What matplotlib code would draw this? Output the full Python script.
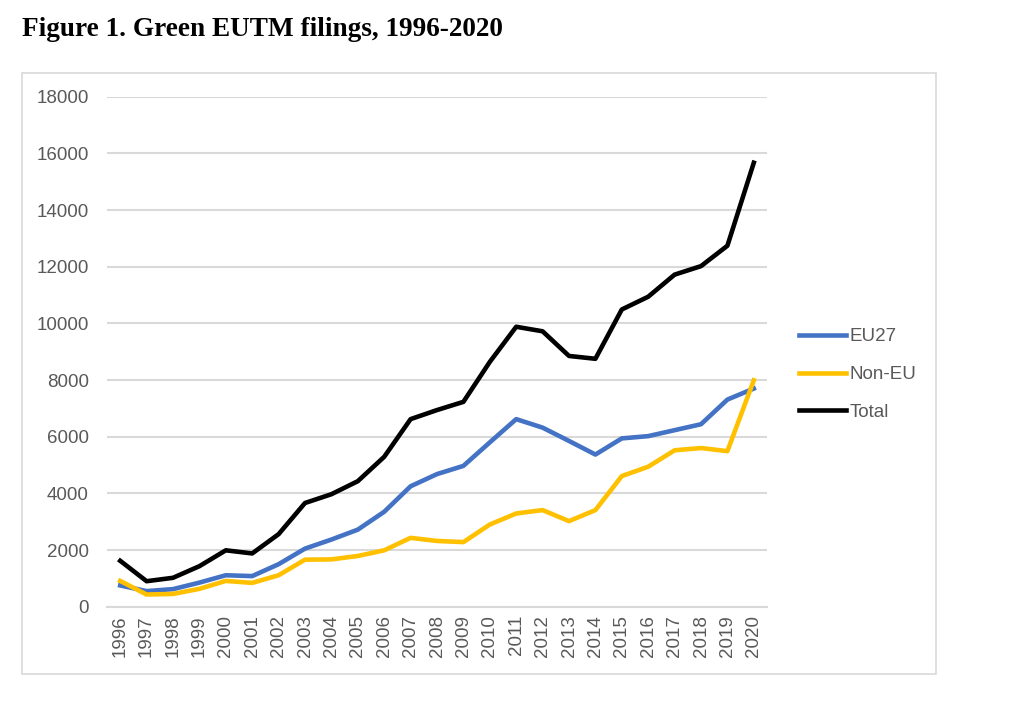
import matplotlib
matplotlib.use("Agg")
import matplotlib.pyplot as plt
from matplotlib.patches import Rectangle

# Dados
anos = list(range(1996, 2021))
eu27 = [750, 550, 620, 850, 1110, 1080, 1500, 2050, 2370, 2720, 3350, 4250,
        4680, 4970, 5800, 6620, 6320, 5850, 5370, 5940, 6020, 6230, 6440, 7310, 7700]
non_eu = [910, 430, 450, 630, 910, 840, 1110, 1660, 1670, 1790, 1990, 2430,
          2320, 2280, 2900, 3290, 3410, 3020, 3410, 4610, 4940, 5520, 5600, 5490, 7990]
total = [1620, 900, 1020, 1430, 1990, 1880, 2560, 3660, 3970, 4430, 5290, 6620,
         6940, 7230, 8640, 9880, 9720, 8850, 8750, 10490, 10940, 11720, 12020, 12740, 15670]
rotulos = [str(a) for a in anos]
yticks = list(range(0, 18001, 2000))

cinza_texto = '#595959'
cinza_grade = '#D9D9D9'

fig = plt.figure(figsize=(10.3, 7.08), dpi=100)
W, H = 1030, 708

# Moldura do gráfico
fig.patches.append(Rectangle((22 / W, 1 - 674 / H), (936 - 22) / W, (674 - 72.5) / H,
                             transform=fig.transFigure, fill=False,
                             edgecolor=cinza_grade, linewidth=1.2))

# Título
fig.text(22 / W, 1 - 36 / H, 'Figure 1. Green EUTM filings, 1996-2020',
         family='Liberation Serif', fontweight='bold', fontsize=19.6,
         color='black', ha='left', va='baseline')

ax = fig.add_axes([107 / W, 1 - 606.7 / H, (767 - 107) / W, (606.7 - 96.7) / H])
x = list(range(len(anos)))
ax.plot(x, eu27, color='#4472C4', linewidth=3.3, label='EU27', solid_joinstyle='round')
ax.plot(x, non_eu, color='#FFC000', linewidth=3.3, label='Non-EU', solid_joinstyle='round')
ax.plot(x, total, color='black', linewidth=3.3, label='Total', solid_joinstyle='round')

ax.set_xlim(-0.5, len(anos) - 0.5)
ax.set_ylim(0, 18000)
ax.set_yticks(yticks)
ax.set_yticklabels([str(v) for v in yticks], family='Liberation Sans',
                   fontsize=13.5, color=cinza_texto)
ax.set_xticks(x)
ax.set_xticklabels(rotulos, rotation=90, family='Liberation Sans',
                   fontsize=13.5, color=cinza_texto)
ax.tick_params(length=0)
ax.tick_params(axis='y', pad=13)
ax.tick_params(axis='x', pad=6)
ax.yaxis.grid(True, color=cinza_grade, linewidth=1.5)
ax.set_axisbelow(True)
for lado in ['top', 'right', 'left']:
    ax.spines[lado].set_visible(False)
ax.spines['bottom'].set_color(cinza_grade)
ax.spines['bottom'].set_linewidth(1.5)

leg = ax.legend(loc='center left', bbox_to_anchor=(799 / W, 1 - 374.5 / H),
                bbox_transform=fig.transFigure, frameon=False,
                prop={'family': 'Liberation Sans', 'size': 13.5},
                handlelength=2.5, handletextpad=0.2, labelspacing=1.1,
                borderpad=0, borderaxespad=0)
for t in leg.get_texts():
    t.set_color(cinza_texto)

fig.savefig('out.png', dpi=100, facecolor='white')
